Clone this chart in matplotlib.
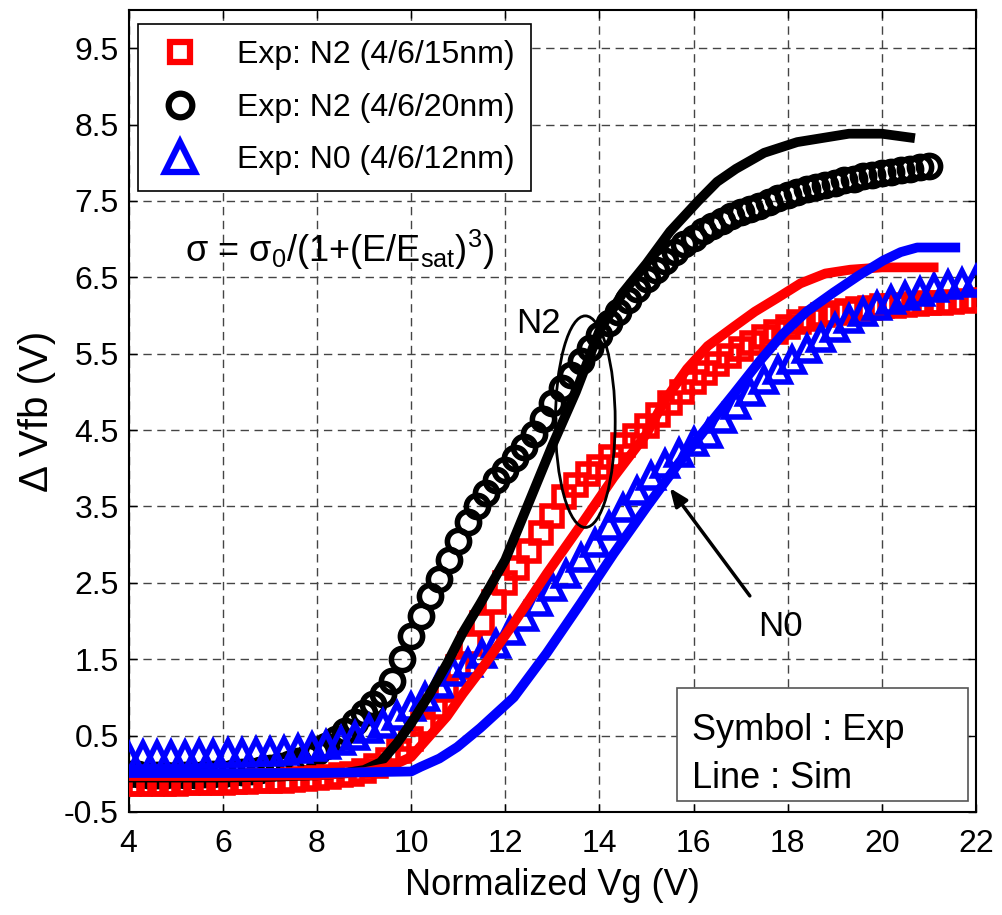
import numpy as np
import matplotlib
matplotlib.use("Agg")
import matplotlib.pyplot as plt
from matplotlib.lines import Line2D
from matplotlib.patches import Ellipse, Rectangle

plt.rcParams['font.family'] = ['Liberation Sans', 'DejaVu Sans']
plt.rcParams['mathtext.fontset'] = 'custom'
plt.rcParams['mathtext.rm'] = 'Liberation Sans'
plt.rcParams['mathtext.it'] = 'Liberation Sans'

# experiment: N2 (4/6/20nm), black circles, Vg step 0.2 V
vg_circ = np.round(np.arange(4.0, 21.01, 0.2), 2)
dv_circ = [0.00, 0.00, -0.01, -0.01, -0.01, -0.01, -0.01, -0.01, 0.00, 0.00,
           0.00, 0.01, 0.02, 0.03, 0.05, 0.07, 0.10, 0.13, 0.17, 0.22,
           0.28, 0.36, 0.45, 0.56, 0.68, 0.80, 0.92, 1.05, 1.22, 1.50,
           1.80, 2.07, 2.33, 2.55, 2.80, 3.05, 3.30, 3.50, 3.68, 3.84,
           3.98, 4.13, 4.28, 4.45, 4.65, 4.85, 5.05, 5.22, 5.40, 5.58,
           5.75, 5.90, 6.05, 6.20, 6.35, 6.48, 6.60, 6.72, 6.83, 6.93,
           7.02, 7.10, 7.17, 7.24, 7.30, 7.35, 7.40, 7.44, 7.49, 7.54,
           7.58, 7.62, 7.65, 7.68, 7.71, 7.74, 7.77, 7.79, 7.82, 7.84,
           7.86, 7.88, 7.90, 7.92, 7.94, 7.96]

# experiment: N2 (4/6/15nm), red squares, Vg step 0.25 V
vg_sq = np.round(np.arange(4.0, 22.01, 0.25), 2)
dv_sq = [-0.13, -0.13, -0.13, -0.13, -0.13, -0.12, -0.12, -0.12, -0.12, -0.11,
         -0.11, -0.10, -0.10, -0.09, -0.08, -0.07, -0.06, -0.04, -0.02, 0.00,
         0.04, 0.10, 0.18, 0.30, 0.45, 0.65, 0.87, 1.10, 1.40, 1.70,
         1.98, 2.25, 2.50, 2.70, 2.92, 3.15, 3.38, 3.62, 3.78, 3.92,
         4.02, 4.15, 4.30, 4.42, 4.55, 4.70, 4.85, 5.00, 5.13, 5.25,
         5.36, 5.47, 5.56, 5.64, 5.72, 5.79, 5.85, 5.91, 5.96, 6.00,
         6.03, 6.06, 6.08, 6.10, 6.12, 6.13, 6.14, 6.15, 6.16, 6.17,
         6.18, 6.19, 6.20]

# experiment: N0 (4/6/12nm), blue triangles, Vg step 0.3 V
vg_tri = np.round(np.arange(4.0, 22.01, 0.3), 2)
dv_tri = [0.22, 0.24, 0.25, 0.25, 0.25, 0.26, 0.26, 0.27, 0.27, 0.28,
          0.29, 0.30, 0.32, 0.35, 0.38, 0.43, 0.50, 0.58, 0.65, 0.75,
          0.87, 1.00, 1.17, 1.33, 1.45, 1.57, 1.70, 1.87, 2.05, 2.25,
          2.45, 2.62, 2.82, 3.02, 3.25, 3.48, 3.70, 3.90, 4.05, 4.20,
          4.35, 4.45, 4.65, 4.83, 5.00, 5.15, 5.28, 5.42, 5.56, 5.70,
          5.83, 5.95, 6.05, 6.13, 6.20, 6.26, 6.31, 6.36, 6.40, 6.43,
          6.46]

# simulations
vg_sim_n2b = [4, 6, 7, 8, 8.5, 9, 9.35, 9.7, 10, 10.4, 10.76, 11.1, 11.47, 12, 12.5,
              13, 13.5, 14, 14.5, 15, 15.5, 16.1, 16.5, 16.9, 17.5, 18.2, 18.8, 19.3,
              20, 20.6]
dv_sim_n2b = [-0.05, -0.05, -0.04, -0.02, 0.0, 0.05, 0.15, 0.4, 0.66, 1.05, 1.44, 1.85,
              2.23, 2.8, 3.55, 4.3, 5.0, 5.8, 6.3, 6.68, 7.1, 7.5, 7.75, 7.92, 8.13,
              8.27, 8.33, 8.38, 8.38, 8.33]

vg_sim_n2a = [4, 6, 8, 9, 9.5, 10, 10.4, 10.76, 11.1, 11.47, 12.18, 12.88, 13.6, 14.3,
              15, 15.4, 15.86, 16.3, 16.85, 17.3, 17.78, 18.27, 18.8, 19.33, 20, 20.5, 21.1]
dv_sim_n2a = [-0.03, -0.03, -0.02, 0.02, 0.08, 0.22, 0.5, 0.75, 1.05, 1.35, 1.97, 2.62,
              3.25, 3.88, 4.45, 4.9, 5.3, 5.6, 5.85, 6.05, 6.23, 6.42, 6.55, 6.6, 6.63,
              6.63, 6.63]

vg_sim_n0 = [4, 6, 8, 9, 10, 10.2, 10.6, 10.98, 11.47, 12.18, 12.88, 13.6, 14.3, 15,
             15.7, 16.3, 16.85, 17.4, 17.9, 18.4, 18.97, 19.5, 20.03, 20.4, 20.75, 21.56]
dv_sim_n0 = [0.01, 0.01, 0.01, 0.02, 0.03, 0.09, 0.2, 0.35, 0.6, 1.0, 1.58, 2.23, 2.88,
             3.49, 4.08, 4.55, 4.97, 5.4, 5.76, 6.05, 6.3, 6.52, 6.72, 6.83, 6.89, 6.89]

labels = ['Exp: N2 (4/6/15nm)', 'Exp: N2 (4/6/20nm)', 'Exp: N0 (4/6/12nm)']

fig = plt.figure(figsize=(10.03, 9.15), dpi=100)
ax = fig.add_axes([0.1283, 0.1126, 0.8448, 0.8765])

mew = 4
ax.plot(vg_circ, dv_circ, 'o', color='black', mfc='none', ms=16, mew=mew, zorder=3)
ax.plot(vg_sq, dv_sq, 's', color='red', mfc='none', ms=14, mew=mew, zorder=3)
ax.plot(vg_tri, dv_tri, '^', color='blue', mfc='none', ms=17, mew=mew, zorder=3)

ax.plot(vg_sim_n2b, dv_sim_n2b, '-', color='black', lw=7, zorder=4)
ax.plot(vg_sim_n2a, dv_sim_n2a, '-', color='red', lw=7, zorder=4)
ax.plot(vg_sim_n0, dv_sim_n0, '-', color='blue', lw=7, zorder=4)

ax.set_xlim(4, 22)
ax.set_ylim(-0.5, 10)
ax.set_xticks(np.arange(4, 23, 2))
ax.set_yticks(np.arange(-0.5, 10, 1.0))
ax.set_yticklabels([f'{v:.1f}' for v in np.arange(-0.5, 10, 1.0)])
ax.grid(True, linestyle=(0, (6, 4)), color='#444444', lw=1)
ax.set_axisbelow(True)
ax.tick_params(direction='in', top=True, right=True, length=6, width=1, labelsize=23)
ax.tick_params(axis='x', pad=12)
ax.tick_params(axis='y', pad=7)
for s in ax.spines.values():
    s.set_linewidth(1.5)

ax.set_xlabel('Normalized Vg (V)', fontsize=26, labelpad=7)
ax.set_ylabel('\u0394 Vfb (V)', fontsize=29, labelpad=6)

handles = [Line2D([], [], ls='none', marker='s', color='red', mfc='none', ms=15, mew=4.5),
           Line2D([], [], ls='none', marker='o', color='black', mfc='none', ms=17, mew=4.5),
           Line2D([], [], ls='none', marker='^', color='blue', mfc='none', ms=21, mew=4.5)]
leg = ax.legend(handles, labels, loc='upper left', bbox_to_anchor=(0.011, 0.982),
                borderaxespad=0, fontsize=23, fancybox=False, edgecolor='black',
                framealpha=1, handlelength=1.6, handletextpad=1.0, labelspacing=0.7,
                borderpad=0.5)
leg.get_frame().set_linewidth(1.2)

ax.text(5.2, 6.7, 'σ = σ$_0$/(1+(E/E$_{\\mathrm{sat}}$)$^3$)', fontsize=26, zorder=6)

ax.text(12.7, 5.9, 'N2', fontsize=25, ha='center', va='center', zorder=6)
ax.add_patch(Ellipse((13.70, 4.61), 1.27, 2.77, fill=False, ec='black', lw=2, zorder=6))

ax.text(17.84, 1.93, 'N0', fontsize=25, ha='center', va='center', zorder=6)
ax.annotate('', xy=(15.46, 3.77), xytext=(17.23, 2.30),
            arrowprops=dict(arrowstyle='-|>,head_length=1.1,head_width=0.45',
                            color='black', lw=2.5), zorder=6)

ax.add_patch(Rectangle((15.65, -0.356), 6.18, 1.476, fc='white', ec='#555555',
                       lw=1.2, zorder=7))
ax.text(15.97, 0.57, 'Symbol : Exp', fontsize=26, ha='left', va='center', zorder=8)
ax.text(15.97, -0.06, 'Line : Sim', fontsize=26, ha='left', va='center', zorder=8)

fig.savefig('out.png', dpi=100)
